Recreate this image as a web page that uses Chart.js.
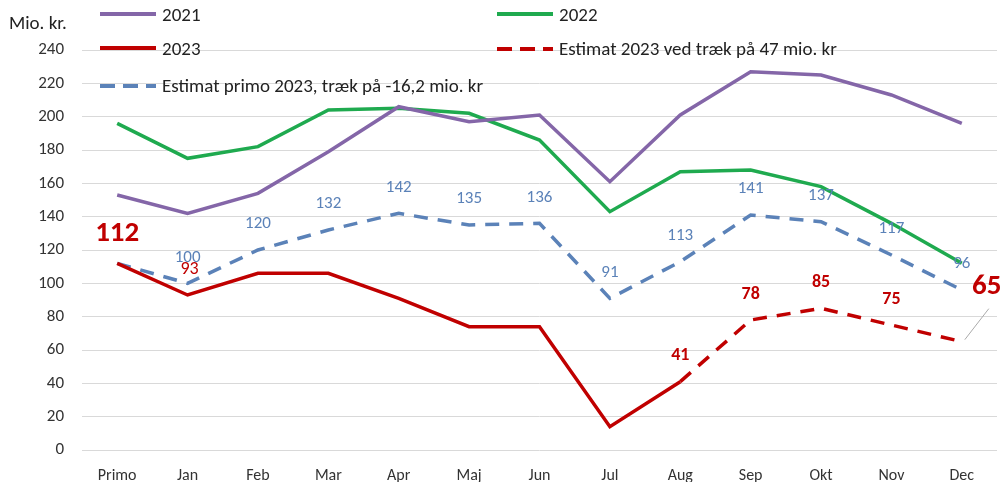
<!DOCTYPE html>
<html><head><meta charset="utf-8">
<script src="https://cdn.jsdelivr.net/npm/chart.js@4"></script>
<style>
html,body{margin:0;padding:0;background:#fff;}
#wrap{position:relative;width:1002px;height:490px;font-family:Carlito,"Liberation Sans Narrow","Liberation Sans",sans-serif;color:#222;}
canvas{position:absolute;left:0;top:0;}
.lg{position:absolute;font-size:19px;line-height:20px;white-space:nowrap;}
.lg i{display:inline-block;width:56px;height:0;border-top:4px solid;vertical-align:middle;margin-right:6px;position:relative;top:-2px;}
#ytitle{position:absolute;left:9px;top:11px;font-size:19px;}
</style></head>
<body>
<div id="wrap">
<canvas id="c" width="1002" height="490"></canvas>
<div id="ytitle">Mio. kr.</div>
<div id="legend"></div>
</div>
<script>
const categories = ["Primo","Jan","Feb","Mar","Apr","Maj","Jun","Jul","Aug","Sep","Okt","Nov","Dec"];
const v2021 = [153,142,154,179,206,197,201,161,201,227,225,213,196];
const v2022 = [196,175,182,204,205,202,186,143,167,168,158,136,112];
const v2023 = [112,93,106,106,91,74,74,14,41,null,null,null,null];
const vEst2023 = [null,null,null,null,null,null,null,null,41,78,85,75,65];
const vEstPrimo = [112,100,120,132,142,135,136,91,113,141,137,117,96];
const yTicks = [0,20,40,60,80,100,120,140,160,180,200,220,240];
const seriesNames = ["2021","2022","2023","Estimat 2023 ved træk på 47 mio. kr","Estimat primo 2023, træk på -16,2 mio. kr"];

const C21="#8466a8", C22="#1faa4f", C23="#c00000", CEP="#5b82b8";
const FONT='Carlito,"Liberation Sans Narrow","Liberation Sans",sans-serif';

const lg=[
 {n:0,c:C21,x:100,y:5,d:false},
 {n:1,c:C22,x:497,y:5,d:false},
 {n:2,c:C23,x:100,y:39,d:false},
 {n:3,c:C23,x:497,y:39,d:true},
 {n:4,c:CEP,x:100,y:76,d:true}
];
const L=document.getElementById('legend');
lg.forEach(e=>{
  const d=document.createElement('div');d.className='lg';d.style.left=e.x+'px';d.style.top=e.y+'px';
  const sw=e.d?`<svg width="56" height="6" style="vertical-align:middle;margin-right:6px;position:relative;top:-1px"><line x1="0" y1="3" x2="56" y2="3" stroke="${e.c}" stroke-width="4" stroke-dasharray="15 8"/></svg>`:`<i style="border-color:${e.c}"></i>`;
  d.innerHTML=sw+seriesNames[e.n];L.appendChild(d);
});

const labelPlugin={id:'lbl',afterDatasetsDraw(chart){
  const ctx=chart.ctx;ctx.save();ctx.textAlign='center';ctx.textBaseline='middle';
  const mEP=chart.getDatasetMeta(4), mE=chart.getDatasetMeta(3), m23=chart.getDatasetMeta(2);
  ctx.fillStyle=CEP;ctx.font='17px '+FONT;
  vEstPrimo.forEach((v,i)=>{if(i===0)return;const p=mEP.data[i];ctx.fillText(String(v),p.x,p.y-26);});
  ctx.fillStyle=C23;ctx.font='bold 18px '+FONT;
  vEst2023.forEach((v,i)=>{if(v===null||i===12)return;const p=mE.data[i];ctx.fillText(String(v),p.x,p.y-26);});
  const pd=mE.data[12];
  ctx.strokeStyle='#aaa';ctx.lineWidth=1;ctx.beginPath();ctx.moveTo(pd.x+3,pd.y-2);ctx.lineTo(pd.x+27,pd.y-33);ctx.stroke();
  ctx.font='bold 29px '+FONT;ctx.fillText(String(vEst2023[12]),pd.x+25,pd.y-55);
  ctx.font='18px '+FONT;const pj=m23.data[1];ctx.fillText(String(v2023[1]),pj.x+2,pj.y-26);
  const pp=m23.data[0];ctx.font='bold 29px '+FONT;ctx.fillText(String(v2023[0]),pp.x,pp.y-30);
  ctx.restore();
}};

new Chart(document.getElementById('c'),{
  type:'line',
  data:{labels:categories,datasets:[
    {label:seriesNames[0],data:v2021,borderColor:C21,borderWidth:3.5,pointRadius:0,tension:0},
    {label:seriesNames[1],data:v2022,borderColor:C22,borderWidth:3.5,pointRadius:0,tension:0},
    {label:seriesNames[2],data:v2023,borderColor:C23,borderWidth:3.5,pointRadius:0,tension:0},
    {label:seriesNames[3],data:vEst2023,borderColor:C23,borderWidth:3.5,borderDash:[14,10],pointRadius:0,tension:0},
    {label:seriesNames[4],data:vEstPrimo,borderColor:CEP,borderWidth:3.5,borderDash:[14,10],pointRadius:0,tension:0}
  ]},
  options:{
    responsive:false,animation:false,
    layout:{padding:{left:0,top:50,right:5,bottom:8}},
    plugins:{legend:{display:false},tooltip:{enabled:false}},
    scales:{
      x:{offset:true,grid:{display:false,drawTicks:false},border:{display:false},
         afterFit(s){s.height=32;},
         ticks:{padding:16,color:'#333',font:{family:FONT,size:16}}},
      y:{min:0,max:240,afterBuildTicks(s){s.ticks=yTicks.map(v=>({value:v}));},
         afterFit(s){s.width=82;},
         grid:{color:'#d9d9d9',lineWidth:1,drawTicks:false},border:{display:false},
         ticks:{padding:18,color:'#333',font:{family:FONT,size:17}}}
    }
  },
  plugins:[labelPlugin]
});
</script>
</body></html>
